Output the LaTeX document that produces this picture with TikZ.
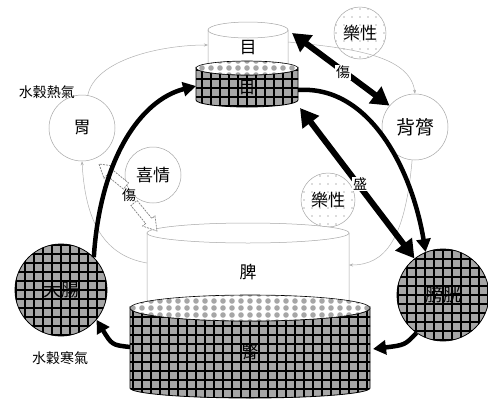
\documentclass[tikz,border=0pt]{standalone}
\usepackage{fontspec}
\newfontfamily\cjk{Noto Sans CJK TC}
\usetikzlibrary{arrows.meta,calc}
\tikzset{
  grid texture/.style={path picture={
    \fill[gray!70] ([shift={(-200,-200)}]path picture bounding box.center) rectangle ([shift={(200,200)}]path picture bounding box.center);
    \foreach \k in {-135,-126,...,135}{
      \draw[black,line width=2pt] ([shift={(\k,-150)}]path picture bounding box.center) -- ([shift={(\k,150)}]path picture bounding box.center);
      \draw[black,line width=2pt] ([shift={(-150,\k)}]path picture bounding box.center) -- ([shift={(150,\k)}]path picture bounding box.center);
    }}},
  dot texture/.style={path picture={
    \foreach \k in {-126,-117,...,126}{
      \foreach \j in {-14,-7,...,14}{
        \fill[gray!70] ([shift={(\k,\j)}]path picture bounding box.center) circle (2.8);
      }}}},
  speck texture/.style={path picture={
    \foreach \k in {-24,-16,...,24}{
      \foreach \j in {-24,-16,...,24}{
        \fill[gray!55] ([shift={(\k,\j)}]path picture bounding box.center) circle (0.8);
      }}}},
  circ/.style={circle, draw=gray!70, line width=0.5pt, fill=white, inner sep=0pt, font=\cjk\fontsize{17}{17}\selectfont},
  darkcirc/.style={circle, draw=black, line width=0.8pt, grid texture, inner sep=0pt, minimum size=92, font=\cjk\fontsize{18}{18}\selectfont},
  cyl/.style={draw=gray!70, line width=0.5pt, fill=white},
  darkcyl/.style={draw=black, line width=0.8pt, grid texture},
  lbl/.style={font=\cjk\fontsize{17}{17}\selectfont, inner sep=0pt},
  smalllbl/.style={font=\cjk\fontsize{14}{14}\selectfont, inner sep=1pt},
  thinline/.style={draw=gray!60, line width=0.5pt, -{Stealth[length=4pt,width=3pt]}},
  bigarrow/.style={line width=4.5pt, -{Triangle[length=13pt,width=14pt]}},
  dblarrow/.style={line width=6pt, {Triangle[length=18pt,width=20pt]}-{Triangle[length=18pt,width=20pt]}},
  hollow/.style={draw=gray, line width=0.7pt, dash pattern=on 2pt off 1pt, fill=white},
}
\newcommand\myhollowarrow[2]{%
  \coordinate (hb) at ($(#2)!13pt!(#1)$);
  \draw[hollow] ($(#1)!4pt!90:(#2)$) -- ($(hb)!4pt!90:(#2)$) -- ($(hb)!8pt!90:(#2)$) -- (#2)
     -- ($(hb)!8pt!-90:(#2)$) -- ($(hb)!4pt!-90:(#2)$) -- ($(#1)!4pt!-90:(#2)$) -- cycle;
}
\begin{document}
\begin{tikzpicture}[x=1pt,y=-1pt]
\useasboundingbox[fill=white] (0,0) rectangle (488,408);

% named points on the cylinders
\coordinate (eyeL) at (208,45);
\coordinate (eyeR) at (288,42);
\coordinate (eyeTR) at (292,33);
\coordinate (muL) at (196,86);
\coordinate (muR) at (298,90);
\coordinate (muBR) at (300,108);
\coordinate (piL) at (147,263);
\coordinate (piR) at (349,265);
\coordinate (piT) at (157,231);
\coordinate (kL) at (130,347);
\coordinate (kR) at (373,349);

% circles
\node[circ, minimum size=66] (wei) at (82,128) {胃};
\node[circ, minimum size=56] (xiqing) at (153,175) {喜情};
\node[circ, speck texture, minimum size=52] (lex1) at (360,33) {樂性};
\node[circ, minimum size=66, font=\cjk\fontsize{19}{19}\selectfont] (beilu) at (415,127) {背膂};
\node[circ, speck texture, minimum size=54] (lex2) at (328,200) {樂性};
\node[darkcirc] (dachang) at (61,290) {大腸};
\node[darkcirc] (bladder) at (443,295) {膀胱};

% thin connectors
\draw[thinline] (wei.80) .. controls (95,60) and (160,45) .. (eyeL);
\draw[thinline] (eyeR) .. controls (350,48) and (410,55) .. (beilu.north);
\draw[thinline] (beilu.-95) .. controls (405,240) and (385,265) .. (piR);
\draw[thinline] (piL) .. controls (100,255) and (85,215) .. (wei.south);

% top cylinders
\path[cyl] (208,30) -- (208,64) arc[start angle=180,end angle=0,x radius=40,y radius=6] -- (288,30) -- cycle;
\path[cyl] (248,30) ellipse [x radius=40, y radius=8];
\path[darkcyl] (196,68) -- (196,100) arc[start angle=180,end angle=0,x radius=51,y radius=7] -- (298,68) arc[start angle=0,end angle=180,x radius=51,y radius=7] -- cycle;
\path[draw=black, line width=0.6pt, fill=white, dot texture] (247,68) ellipse [x radius=51, y radius=7];
\node[lbl] (mu1) at (248,48) {目};
\node[lbl] (mu2) at (247,88) {目};

% bottom cylinders
\path[cyl] (147,233) -- (147,300) arc[start angle=180,end angle=0,x radius=101,y radius=10] -- (349,233) -- cycle;
\path[cyl] (248,233) ellipse [x radius=101, y radius=10];
\path[darkcyl] (130,308) -- (130,388) arc[start angle=180,end angle=0,x radius=120,y radius=10] -- (370,308) arc[start angle=0,end angle=180,x radius=120,y radius=13] -- cycle;
\path[draw=black, line width=0.6pt, fill=white, dot texture] (250,308) ellipse [x radius=120, y radius=13];
\node[lbl] (pi) at (248,272) {脾};
\node[lbl] (shen) at (250,352) {腎};

% hollow arrows
\myhollowarrow{126,186}{99,164}
\myhollowarrow{134,203}{piT}

% thick arrows
\draw[bigarrow] (dachang.45) .. controls (100,160) and (140,100) .. (muL);
\draw[bigarrow] (muR) .. controls (370,85) and (412,170) .. (bladder.112);
\draw[bigarrow] (kL) .. controls (112,345) .. (dachang.-40);
\draw[bigarrow] (bladder.-125) .. controls (405,345) .. (kR);
\draw[dblarrow] (eyeTR) -- (beilu.140);
\draw[dblarrow] (muBR) -- (bladder.128);

% labels
\node[smalllbl, fill=white] (shang1) at (343,72) {傷};
\node[smalllbl, fill=white] (sheng) at (360,184) {盛};
\node[smalllbl] (shang2) at (129,195) {傷};
\node[smalllbl] (rehq) at (47,92) {水穀熱氣};
\node[smalllbl] (hanq) at (60,358) {水穀寒氣};
\end{tikzpicture}
\end{document}
